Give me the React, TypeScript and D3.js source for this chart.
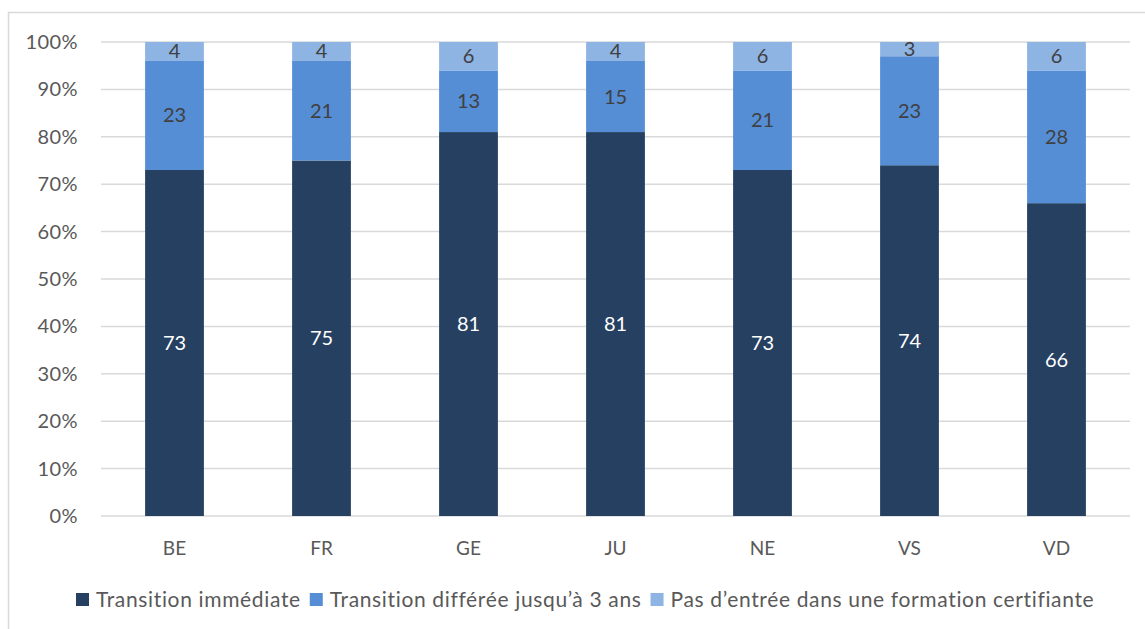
import React, { useEffect, useRef } from 'react';
import * as d3 from 'd3';

const cantons = ['BE', 'FR', 'GE', 'JU', 'NE', 'VS', 'VD'];
const immediate = [73, 75, 81, 81, 73, 74, 66];
const deferred = [23, 21, 13, 15, 21, 23, 28];
const noEntry = [4, 4, 6, 4, 6, 3, 6];
const seriesNames = [
    'Transition immédiate',
    'Transition différée jusqu\u2019à 3 ans',
    'Pas d\u2019entrée dans une formation certifiante',
];
const yTicks = [0, 0.1, 0.2, 0.3, 0.4, 0.5, 0.6, 0.7, 0.8, 0.9, 1];

const colors = ['#264061', '#558ed5', '#8eb4e3'];
const labelColors = ['#ffffff', '#404040', '#404040'];
const font = 'Lato, Carlito, "Open Sans", sans-serif';

function App() {
    const svgRef = useRef<SVGSVGElement>(null);

    useEffect(() => {
        const svg = d3.select(svgRef.current);
        svg.selectAll('*').remove();

        const W = 1145, H = 629;
        const margin = { top: 42, right: 15, bottom: 113, left: 101 };
        const width = W - margin.left - margin.right;
        const height = H - margin.top - margin.bottom;

        svg.attr('width', W).attr('height', H);

        // outer frame
        svg.append('rect')
            .attr('x', 8.5).attr('y', 12.5)
            .attr('width', W + 20).attr('height', H + 20)
            .attr('fill', 'none').attr('stroke', '#d9d9d9').attr('stroke-width', 1.5);

        const chart = svg.append('g')
            .attr('transform', `translate(${margin.left},${margin.top})`);

        const x = d3.scaleBand().domain(cantons).range([0, width]).paddingInner(0.6).paddingOuter(0.3);
        const y = d3.scaleLinear().domain([0, 1]).range([height, 0]);

        // gridlines
        chart.selectAll('.grid')
            .data(yTicks)
            .enter()
            .append('line')
            .attr('x1', 0).attr('x2', width)
            .attr('y1', d => y(d)).attr('y2', d => y(d))
            .attr('stroke', '#d9d9d9').attr('stroke-width', 1.5);

        // y labels
        chart.selectAll('.ylab')
            .data(yTicks)
            .enter()
            .append('text')
            .attr('x', -23)
            .attr('y', d => y(d))
            .attr('dy', '0.35em')
            .attr('text-anchor', 'end')
            .style('font-family', font).style('font-size', '20px').style('letter-spacing', '0.4px')
            .attr('fill', '#595959')
            .text(d => d3.format('.0%')(d));

        const rows = cantons.map((c, i) => ({ canton: c, s0: immediate[i], s1: deferred[i], s2: noEntry[i] }));
        const stack = d3.stack<any>().keys(['s0', 's1', 's2']).offset(d3.stackOffsetExpand);
        const layers = stack(rows);

        layers.forEach((layer, li) => {
            const g = chart.append('g');
            g.selectAll('rect')
                .data(layer)
                .enter()
                .append('rect')
                .attr('x', d => x(d.data.canton)!)
                .attr('width', x.bandwidth())
                .attr('y', d => y(d[1]))
                .attr('height', d => y(d[0]) - y(d[1]))
                .attr('fill', colors[li]);
            g.selectAll('text')
                .data(layer)
                .enter()
                .append('text')
                .attr('x', d => x(d.data.canton)! + x.bandwidth() / 2)
                .attr('y', d => (y(d[0]) + y(d[1])) / 2)
                .attr('dy', '0.35em')
                .attr('text-anchor', 'middle')
                .style('font-family', font).style('font-size', '20px').attr('fill', labelColors[li])
                .text(d => d.data[layer.key]);
        });

        // x labels
        chart.selectAll('.xlab')
            .data(cantons)
            .enter()
            .append('text')
            .attr('x', d => x(d)! + x.bandwidth() / 2)
            .attr('y', height + 32)
            .attr('dy', '0.35em')
            .attr('text-anchor', 'middle')
            .style('font-family', font).style('font-size', '19px').attr('fill', '#595959')
            .text(d => d);

        // legend
        const legend = svg.append('g').attr('transform', 'translate(76,600)');
        let offset = 0;
        seriesNames.forEach((name, i) => {
            const item = legend.append('g').attr('transform', `translate(${offset},0)`);
            item.append('rect').attr('x', 0).attr('y', -7).attr('width', 13).attr('height', 13).attr('fill', colors[i]);
            const t = item.append('text')
                .attr('x', 20).attr('y', 0).attr('dy', '0.35em')
                .style('font-family', font).style('font-size', '21px').style('letter-spacing', '0.65px')
                .attr('fill', '#595959')
                .text(name);
            const w = (t.node() as SVGTextElement).getComputedTextLength();
            offset += 20 + w + 9;
        });
    }, []);

    return <svg ref={svgRef} style={{ display: 'block', position: 'absolute', left: 0, top: 0 }}></svg>;
}

export default App;
